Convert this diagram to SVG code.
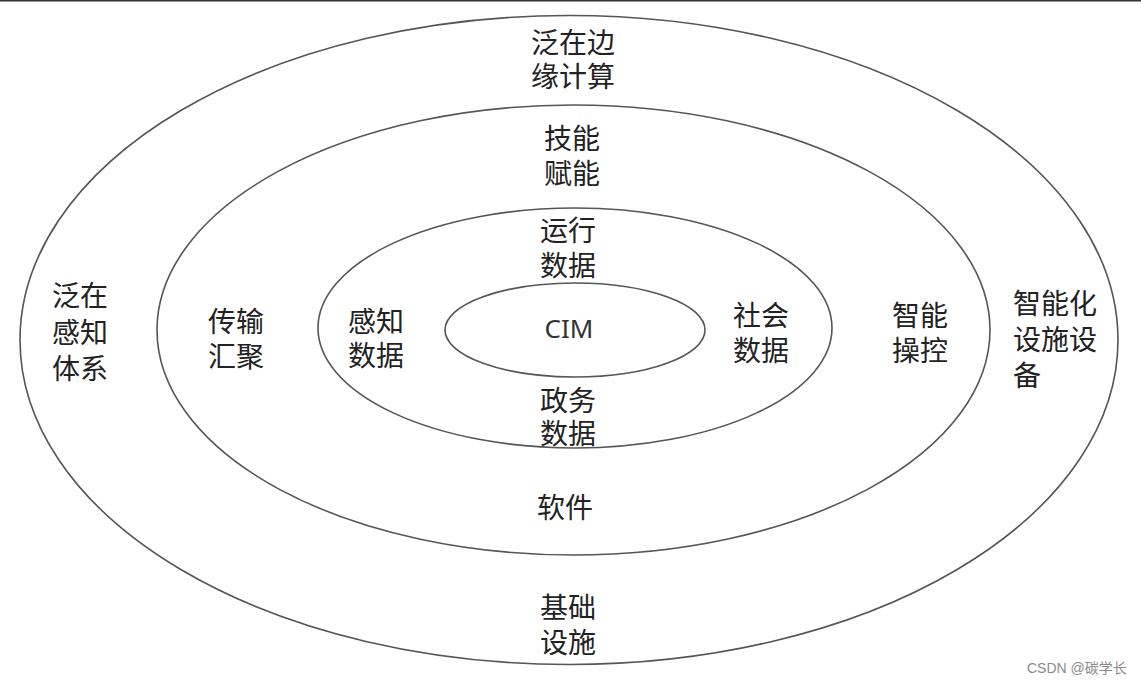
<svg xmlns="http://www.w3.org/2000/svg" width="1141" height="685" viewBox="0 0 1141 685">
<style>
.ring{fill:none;stroke:#555;stroke-width:1.6}
.t{font-family:"Liberation Sans","Noto Sans CJK SC",sans-serif;font-size:28px;fill:#222}
.c{text-anchor:middle}
.lat{font-family:"Noto Sans","Liberation Sans",sans-serif;font-size:26px;fill:#333;text-anchor:middle}
.wm{font-family:"Liberation Sans","Noto Sans CJK SC",sans-serif;font-size:14px;fill:#8a8a8a}
</style>
<rect width="1141" height="685" fill="#fff"/>
<line x1="0" y1="0.8" x2="1141" y2="0.8" stroke="#333" stroke-width="1.6"/>
<g id="rings">
<ellipse id="ring-outer" class="ring" cx="569" cy="340" rx="549" ry="324.5"/>
<ellipse id="ring-2" class="ring" cx="573.5" cy="330" rx="416.5" ry="225"/>
<ellipse id="ring-3" class="ring" cx="575" cy="328" rx="257" ry="120"/>
<ellipse id="ring-core" class="ring" cx="575" cy="330" rx="130" ry="47"/>
</g>
<g id="connectors"></g>
<g id="n-edge"><text class="t c" x="573" y="53">泛在边<tspan x="573" dy="34">缘计算</tspan></text></g>
<g id="n-skill"><text class="t c" x="572" y="149">技能<tspan x="572" dy="35">赋能</tspan></text></g>
<g id="n-run"><text class="t c" x="568" y="241">运行<tspan x="568" dy="35">数据</tspan></text></g>
<g id="n-cim"><text class="lat" x="569" y="338">CIM</text></g>
<g id="n-gov"><text class="t c" x="568" y="411">政务<tspan x="568" dy="33">数据</tspan></text></g>
<g id="n-sense-data"><text class="t c" x="376" y="332">感知<tspan x="376" dy="34">数据</tspan></text></g>
<g id="n-social"><text class="t c" x="761" y="326">社会<tspan x="761" dy="35">数据</tspan></text></g>
<g id="n-trans"><text class="t c" x="236" y="332">传输<tspan x="236" dy="35">汇聚</tspan></text></g>
<g id="n-ctrl"><text class="t c" x="920" y="326">智能<tspan x="920" dy="35">操控</tspan></text></g>
<g id="n-sense-sys"><text class="t" x="52" y="306">泛在<tspan x="52" dy="37">感知</tspan><tspan x="52" dy="36">体系</tspan></text></g>
<g id="n-device"><text class="t" x="1013" y="314">智能化<tspan x="1013" dy="36">设施设</tspan><tspan x="1013" dy="36">备</tspan></text></g>
<g id="n-soft"><text class="t c" x="565" y="518">软件</text></g>
<g id="n-infra"><text class="t c" x="568" y="618">基础<tspan x="568" dy="35">设施</tspan></text></g>
<text class="wm" x="1027" y="673">CSDN @碳学长</text>
</svg>
